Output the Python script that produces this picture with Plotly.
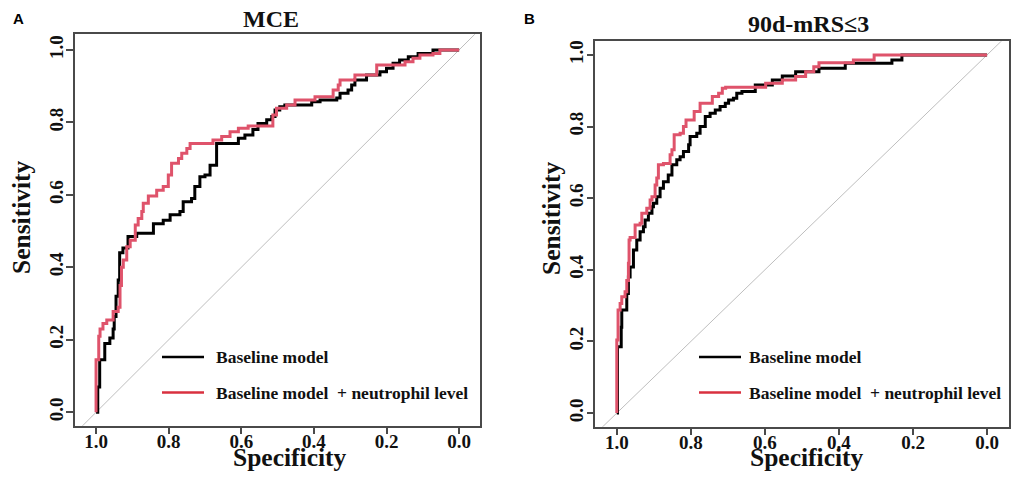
import plotly.graph_objects as go

# ---------------- data (step vertices: specificity, sensitivity) ----------------
a_base_spec = [1.0, 0.9953, 0.990, 0.976, 0.962, 0.953, 0.950, 0.945, 0.939, 0.935, 0.926, 0.912, 0.888,
               0.842, 0.815, 0.796, 0.769, 0.760, 0.737, 0.728, 0.714, 0.700, 0.686, 0.668, 0.608, 0.590,
               0.568, 0.554, 0.530, 0.516, 0.507, 0.494, 0.480, 0.406, 0.383, 0.337, 0.328, 0.306, 0.296,
               0.287, 0.255, 0.218, 0.200, 0.182, 0.164, 0.140, 0.113, 0.072, 0.0]
a_base_sens = [0.0, 0.07, 0.145, 0.19, 0.205, 0.23, 0.264, 0.32, 0.365, 0.44, 0.453, 0.485, 0.494,
               0.52, 0.53, 0.545, 0.554, 0.581, 0.59, 0.623, 0.65, 0.655, 0.682, 0.742, 0.756, 0.765,
               0.78, 0.797, 0.807, 0.816, 0.834, 0.843, 0.848, 0.857, 0.862, 0.867, 0.88, 0.889, 0.903,
               0.917, 0.931, 0.94, 0.949, 0.963, 0.972, 0.981, 0.99, 1.0, 1.0]

a_neut_spec = [1.0, 1.0, 0.9926, 0.989, 0.981, 0.9705, 0.953, 0.939, 0.934, 0.930, 0.925, 0.9155, 0.906,
               0.892, 0.884, 0.874, 0.870, 0.856, 0.833, 0.815, 0.801, 0.792, 0.773, 0.764, 0.750, 0.741,
               0.678, 0.654, 0.631, 0.608, 0.581, 0.513, 0.503, 0.475, 0.452, 0.397, 0.347, 0.333, 0.328,
               0.287, 0.227, 0.149, 0.127, 0.108, 0.072, 0.053, 0.0]
a_neut_sens = [0.0, 0.145, 0.21, 0.23, 0.245, 0.255, 0.278, 0.29, 0.35, 0.40, 0.42, 0.457, 0.475,
               0.517, 0.535, 0.554, 0.577, 0.597, 0.613, 0.623, 0.655, 0.687, 0.70, 0.715, 0.728, 0.742,
               0.751, 0.761, 0.774, 0.784, 0.79, 0.82, 0.839, 0.848, 0.862, 0.871, 0.889, 0.903, 0.917,
               0.931, 0.958, 0.967, 0.977, 0.986, 0.99, 1.0, 1.0]

b_base_spec = [1.0, 0.998, 0.988, 0.9865, 0.973, 0.9686, 0.964, 0.955, 0.946, 0.937, 0.928, 0.9235, 0.9146,
               0.905, 0.901, 0.892, 0.883, 0.874, 0.861, 0.851, 0.838, 0.829, 0.820, 0.806, 0.802, 0.784,
               0.775, 0.761, 0.748, 0.734, 0.721, 0.707, 0.698, 0.685, 0.676, 0.662, 0.626, 0.580, 0.553,
               0.517, 0.454, 0.383, 0.257, 0.230, 0.0]
b_base_sens = [0.0, 0.185, 0.24, 0.288, 0.334, 0.38, 0.408, 0.455, 0.483, 0.506, 0.52, 0.539, 0.558,
               0.576, 0.586, 0.604, 0.628, 0.646, 0.665, 0.693, 0.707, 0.716, 0.73, 0.749, 0.772, 0.781,
               0.80, 0.828, 0.837, 0.846, 0.856, 0.865, 0.874, 0.879, 0.893, 0.898, 0.916, 0.93, 0.941,
               0.953, 0.963, 0.977, 0.986, 1.0, 1.0]

b_neut_spec = [1.0, 1.0, 0.9965, 0.991, 0.9865, 0.9776, 0.973, 0.9686, 0.9668, 0.964, 0.9505, 0.937, 0.9324,
               0.919, 0.910, 0.905, 0.8965, 0.892, 0.8876, 0.874, 0.856, 0.851, 0.845, 0.829, 0.820, 0.813,
               0.791, 0.775, 0.742, 0.725, 0.715, 0.706, 0.598, 0.553, 0.517, 0.490, 0.468, 0.454, 0.361,
               0.305, 0.0]
b_neut_sens = [0.0, 0.204, 0.288, 0.306, 0.325, 0.339, 0.37, 0.418, 0.483, 0.49, 0.525, 0.53, 0.558,
               0.572, 0.595, 0.604, 0.637, 0.656, 0.693, 0.697, 0.721, 0.735, 0.777, 0.781, 0.80, 0.818,
               0.842, 0.865, 0.884, 0.893, 0.907, 0.91, 0.921, 0.93, 0.94, 0.953, 0.967, 0.978, 0.986,
               1.0, 1.0]

tick_vals = [0.0, 0.2, 0.4, 0.6, 0.8, 1.0]
tick_text = ["0.0", "0.2", "0.4", "0.6", "0.8", "1.0"]
diag_spec = [1.2, -0.2]
panel_titles = ["MCE", "90d-mRS≤3"]
panel_letters = ["A", "B"]
legend_labels = ["Baseline model", "Baseline model  + neutrophil level"]

BLACK = "#000000"
RED = "#DF536B"
GREY = "#BEBEBE"
W, H = 1025, 481
SERIF = "Liberation Serif"

fig = go.Figure()

panels = [
    dict(xa="x", ya="y", base=(a_base_spec, a_base_sens), neut=(a_neut_spec, a_neut_sens)),
    dict(xa="x2", ya="y2", base=(b_base_spec, b_base_sens), neut=(b_neut_spec, b_neut_sens)),
]
for p in panels:
    fig.add_trace(go.Scatter(x=diag_spec, y=[1 - v for v in diag_spec], mode="lines",
                             line=dict(color=GREY, width=1), xaxis=p["xa"], yaxis=p["ya"],
                             showlegend=False, hoverinfo="skip"))
    fig.add_trace(go.Scatter(x=p["base"][0], y=p["base"][1], mode="lines",
                             line=dict(color=BLACK, width=3, shape="hv"),
                             xaxis=p["xa"], yaxis=p["ya"], showlegend=False))
    fig.add_trace(go.Scatter(x=p["neut"][0], y=p["neut"][1], mode="lines",
                             line=dict(color=RED, width=3, shape="hv"),
                             xaxis=p["xa"], yaxis=p["ya"], showlegend=False))


def px2paper(x, y):
    return x / W, 1 - y / H


axis_common = dict(showline=True, mirror=True, linecolor="#4a4a4a", linewidth=1.5,
                   ticks="outside", ticklen=7, tickwidth=1.5, tickcolor="#4a4a4a",
                   tickvals=tick_vals, ticktext=tick_text, showgrid=False, zeroline=False,
                   tickfont=dict(family=SERIF, size=19, color="#111", weight="bold"))

# panel boxes in pixels
boxA = (75, 34.3, 480, 425.7)
boxB = (595.3, 41.3, 1009.3, 426.7)


def dom(box):
    x0, y0, x1, y1 = box
    return [x0 / W, x1 / W], [1 - y1 / H, 1 - y0 / H]


dxA, dyA = dom(boxA)
dxB, dyB = dom(boxB)

fig.update_layout(
    width=W, height=H, margin=dict(l=0, r=0, t=0, b=0),
    paper_bgcolor="white", plot_bgcolor="white",
    xaxis=dict(domain=dxA, range=[1.058, -0.0575], anchor="y", ticklabelstandoff=-9, **axis_common),
    yaxis=dict(domain=dyA, range=[-0.037, 1.043], anchor="x", tickangle=-90, ticklabelstandoff=-4,
               **axis_common),
    xaxis2=dict(domain=dxB, range=[1.058, -0.06], anchor="y2", ticklabelstandoff=-9, **axis_common),
    yaxis2=dict(domain=dyB, range=[-0.038, 1.038], anchor="x2", tickangle=-90, ticklabelstandoff=-4,
                **axis_common),
)

ann = []
shapes = []
title_font = dict(family=SERIF, size=24, color="#111", weight="bold")
label_font = dict(family=SERIF, size=25.5, color="#111", weight="bold")
leg_font = dict(family=SERIF, size=17.5, color="#111", weight="bold")

specs = [
    dict(title_xy=(271, 19), letter_xy=(18, 18), xlab_xy=(290, 457), ylab_xy=(22, 217),
         leg_x=(162, 204), leg_y=(357, 392.5), leg_tx=214),
    dict(title_xy=(808.5, 23.5), letter_xy=(529, 18), xlab_xy=(807, 457), ylab_xy=(551, 218),
         leg_x=(699, 741), leg_y=(357, 392.5), leg_tx=747),
]
for i, s in enumerate(specs):
    x, y = px2paper(*s["title_xy"])
    ann.append(dict(x=x, y=y, xref="paper", yref="paper", text=panel_titles[i], showarrow=False,
                    font=title_font, xanchor="center", yanchor="middle"))
    x, y = px2paper(*s["letter_xy"])
    ann.append(dict(x=x, y=y, xref="paper", yref="paper", text=panel_letters[i], showarrow=False,
                    font=dict(family="Liberation Sans", size=15, color="#000", weight="bold"),
                    xanchor="center", yanchor="middle"))
    x, y = px2paper(*s["xlab_xy"])
    ann.append(dict(x=x, y=y, xref="paper", yref="paper", text="Specificity", showarrow=False,
                    font=label_font, xanchor="center", yanchor="middle"))
    x, y = px2paper(*s["ylab_xy"])
    ann.append(dict(x=x, y=y, xref="paper", yref="paper", text="Sensitivity", showarrow=False,
                    font=label_font, xanchor="center", yanchor="middle", textangle=-90))
    for j, (col, ly) in enumerate(zip([BLACK, "#D9303F"], s["leg_y"])):
        x0, yy = px2paper(s["leg_x"][0], ly)
        x1, _ = px2paper(s["leg_x"][1], ly)
        shapes.append(dict(type="line", xref="paper", yref="paper", x0=x0, x1=x1, y0=yy, y1=yy,
                           line=dict(color=col, width=2.5)))
        tx, _ = px2paper(s["leg_tx"], ly)
        ann.append(dict(x=tx, y=yy, xref="paper", yref="paper", text=legend_labels[j], showarrow=False,
                        font=leg_font, xanchor="left", yanchor="middle"))

fig.update_layout(annotations=ann, shapes=shapes)
fig.write_html("out.html", config={"displayModeBar": False},
               post_script="document.body.style.margin='0';document.body.style.overflow='hidden';")
